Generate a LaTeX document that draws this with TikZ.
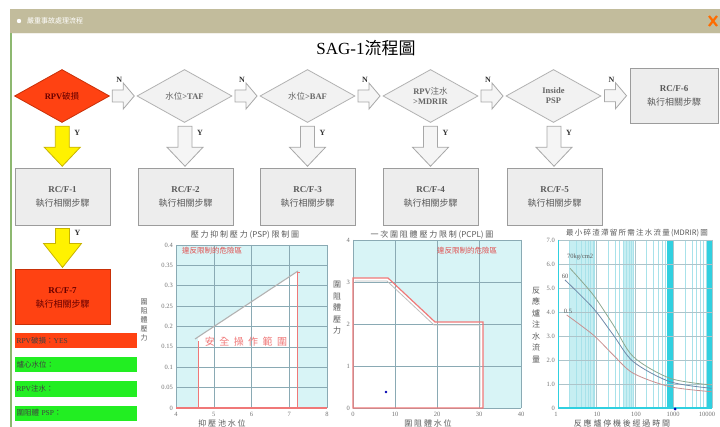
\documentclass[tikz,border=0pt]{standalone}
\usepackage{fontspec}
\setmainfont{Liberation Serif}
\newfontfamily\cjk{Noto Sans CJK TC}
\newcommand\zh[1]{{\cjk #1}}
\usetikzlibrary{shapes.geometric,calc}
\definecolor{barkhaki}{HTML}{C2BC9C}
\definecolor{redor}{HTML}{FF4212}
\definecolor{reddraw}{HTML}{C83008}
\definecolor{dgrey}{HTML}{F2F2F2}
\definecolor{bgrey}{HTML}{B2B2B2}
\definecolor{boxfill}{HTML}{EDEDED}
\definecolor{boxdraw}{HTML}{9C9C9C}
\definecolor{arrowc}{HTML}{A8A8A8}
\definecolor{arrowf}{HTML}{F5F5F5}
\definecolor{yel}{HTML}{FFF200}
\definecolor{yeldraw}{HTML}{C8B400}
\definecolor{grn}{HTML}{22EE22}
\definecolor{leftg}{HTML}{8DB870}
\definecolor{cyanbg}{HTML}{D8F4F6}
\definecolor{cyanl}{HTML}{C6EEF2}
\definecolor{cyanband}{HTML}{30D0E0}
\definecolor{minorc}{HTML}{A8E2EA}
\definecolor{gridc}{HTML}{8AAAB4}
\definecolor{redline}{HTML}{F07878}
\definecolor{redtext}{HTML}{E05050}
\definecolor{curvea}{HTML}{8EA890}
\definecolor{curveb}{HTML}{7088A8}
\definecolor{curvec}{HTML}{C89090}
\begin{document}
\begin{tikzpicture}[x=1pt,y=-1pt,
  dia/.style={diamond, minimum width=95pt, minimum height=53pt, inner sep=0pt, draw=bgrey, fill=dgrey, line width=0.8pt, align=center, text=black!60, font=\fontsize{8.5}{10}\selectfont},
  rcbox/.style={rectangle, draw=boxdraw, fill=boxfill, minimum width=95pt, minimum height=57pt, inner sep=0pt, align=center, text=black!65, font=\fontsize{9}{14}\selectfont, line width=0.8pt},
  harrow/.style={draw=arrowc, fill=arrowf, line width=0.8pt},
  yarrow/.style={draw=yeldraw, fill=yel, line width=0.8pt},
  lab/.style={font=\bfseries\fontsize{8}{8}\selectfont, text=black!80, inner sep=0pt},
  statbar/.style={rectangle, minimum width=122pt, minimum height=15pt, inner sep=1.5pt, text width=119pt, align=left, font=\fontsize{7.5}{8}\selectfont, text=black!75},
  tick/.style={font=\fontsize{6.5}{7}\selectfont, text=black!55, inner sep=1pt},
  ctitle/.style={font=\cjk\fontsize{8}{9}\selectfont, text=black!65, inner sep=0pt},
  vlab/.style={font=\cjk\fontsize{7.5}{10.5}\selectfont, text=black!65, align=center, inner sep=0pt},
  redtxt/.style={font=\cjk\fontsize{7.5}{8}\selectfont, text=redtext, inner sep=0pt},
  rarrow/.pic={\path[harrow] (-11,-6) -- (0,-6) -- (0,-13) -- (11,0) -- (0,13) -- (0,6) -- (-11,6) -- cycle;},
  darrow/.pic={\path[#1] (-7,-19) -- (7,-19) -- (7,2) -- (18,2) -- (0,21) -- (-18,2) -- (-7,2) -- cycle;},
  darrowb/.pic={\path[#1] (-7,-19) -- (7,-19) -- (7,-4) -- (19,-4) -- (0,20) -- (-19,-4) -- (-7,-4) -- cycle;}
]
\useasboundingbox (0,0) rectangle (720,427);
\fill[white] (0,0) rectangle (720,427);
% window frame
\fill[barkhaki] (10,9) rectangle (720,33);
\draw[white!80!barkhaki, line width=1pt] (10,33.5) -- (720,33.5);
\draw[leftg, line width=1.6pt] (11,33) -- (11,427);
\fill[white] (19,21) circle (2.2);
\node[anchor=west, text=white, font=\cjk\fontsize{7}{8}\selectfont, inner sep=0pt] (wtitle) at (27,21) {嚴重事故處理流程};
\draw[orange!85!red, line width=2.2pt] (709,16) -- (717,26) (717,16) -- (709,26);
% title
\node (title) at (366,48) {\fontsize{17}{20}\selectfont SAG-1\zh{流程圖}};
% decision row
\node[dia, fill=redor, draw=reddraw, text=black!60!red] (d1) at (62,96) {\textbf{RPV}\zh{破損}};
\node[dia] (d2) at (184.5,96) {\zh{水位}\textbf{>TAF}};
\node[dia] (d3) at (307.5,96) {\zh{水位}\textbf{>BAF}};
\node[dia] (d4) at (430.5,96) {\textbf{RPV}\zh{注水}\\\textbf{>MDRIR}};
\node[dia] (d5) at (553.5,96) {\textbf{Inside}\\\textbf{PSP}};
\node[rcbox, minimum width=88pt, minimum height=55pt] (b6) at (674,95.5) {\textbf{RC/F-6}\\\zh{執行相關步驟}};
% step boxes
\node[rcbox] (b1) at (62.5,196.5) {\textbf{RC/F-1}\\\zh{執行相關步驟}};
\node[rcbox] (b2) at (185.5,196.5) {\textbf{RC/F-2}\\\zh{執行相關步驟}};
\node[rcbox] (b3) at (307.5,196.5) {\textbf{RC/F-3}\\\zh{執行相關步驟}};
\node[rcbox] (b4) at (430.5,196.5) {\textbf{RC/F-4}\\\zh{執行相關步驟}};
\node[rcbox] (b5) at (554.5,196.5) {\textbf{RC/F-5}\\\zh{執行相關步驟}};
\node[rcbox, fill=redor, draw=reddraw, line width=1pt, minimum height=55pt, text=black!60!red] (b7) at (62.5,297.5) {\textbf{RC/F-7}\\\zh{執行相關步驟}};
% N arrows
\foreach \a/\b in {d1/d2,d2/d3,d3/d4,d4/d5,d5/b6}{
  \path ($(\a.east)!0.5!(\b.west)$) pic {rarrow};
  \node[lab] at ($(\a.east)!0.5!(\b.west)+(-4,-16)$) {N};
}
% Y arrows
\path ($(d1.south)!0.5!(b1.north)$) pic {darrow=yarrow};
\node[lab] at ($(d1.south)!0.5!(b1.north)+(15,-12)$) {Y};
\foreach \a/\b in {d2/b2,d3/b3,d4/b4,d5/b5}{
  \path ($(\a.south)!0.5!(\b.north)$) pic {darrow=harrow};
  \node[lab] at ($(\a.south)!0.5!(\b.north)+(15,-12)$) {Y};
}
\path ($(b1.south)!0.5!(b7.north)$) pic {darrowb=yarrow};
\node[lab] at ($(b1.south)!0.5!(b7.north)+(15,-15)$) {Y};
% status bars
\node[statbar, fill=redor] (s1) at (76,340.5) {RPV\zh{破損：}YES};
\node[statbar, fill=grn] (s2) at (76,365) {\zh{爐心水位：}};
\node[statbar, fill=grn] (s3) at (76,389) {RPV\zh{注水：}};
\node[statbar, fill=grn] (s4) at (76,413) {\zh{圍阻體} PSP\zh{：}};
%% chart 1 (PSP)
\fill[cyanbg] (176,245) rectangle (327,408);
\fill[white] (198,408) -- (198,337) -- (297,271) -- (297,408) -- cycle;
\foreach \i in {0,...,8} \draw[gridc, line width=0.5pt] (176,{245+20.375*\i}) -- (327,{245+20.375*\i});
\foreach \x in {176,213.75,251.5,289.25,327} \draw[gridc, line width=0.5pt] (\x,245) -- (\x,408);
\draw[gray!60, line width=1.1pt] (195,339) -- (298,271);
\draw[redline, line width=0.9pt] (198,341) -- (198,408) -- (297,408) -- (297,272) -- (300,272);
\draw[redline, line width=1.2pt] (176,408) -- (327,408);
\foreach \v/\i in {0.4/0,0.35/1,0.3/2,0.25/3,0.2/4,0.15/5,0.1/6,0.05/7,0/8} \node[tick,anchor=east] at (174,{245+20.375*\i}) {\v};
\foreach \v/\x in {4/176,5/213.75,6/251.5,7/289.25,8/327} \node[tick] at (\x,414) {\v};
\node[ctitle] (t1) at (245,235) {壓 力 抑 制 壓 力 (PSP) 限 制 圖};
\node[redtxt, anchor=west] (r1) at (182,251) {違反限制的危險區};
\node[font=\cjk\fontsize{10}{11}\selectfont, text=redline, inner sep=0pt] (r1b) at (246,342) {安 \ 全 \ 操 \ 作 \ 範 \ 圍};
\node[vlab, font=\cjk\fontsize{7}{9}\selectfont] (y1) at (144,320) {圍\\阻\\體\\壓\\力};
\node[ctitle] (x1) at (222,423) {抑 壓 池 水 位};
%% chart 2 (PCPL)
\fill[cyanbg] (353,240) rectangle (521,408);
\fill[white] (353,408) -- (353,278) -- (388,278) -- (435,322) -- (483,322) -- (483,408) -- cycle;
\foreach \y in {240,282,324,366,408} \draw[gridc, line width=0.5pt] (353,\y) -- (521,\y);
\foreach \x in {353,395,437,479,521} \draw[gridc, line width=0.5pt] (\x,240) -- (\x,408);
\draw[gray!50, line width=0.8pt] (355,281) -- (387,281) -- (434,325) -- (480,325) -- (480,406);
\draw[redline, line width=1.2pt] (353,408) -- (353,278) -- (388,278) -- (435,322) -- (483,322) -- (483,408) -- cycle;
\fill[blue!70!black] (386,392) circle (1.3);
\foreach \v/\y in {4/240,3/282,2/324,1/366,0/408} \node[tick,anchor=east] at (351,\y) {\v};
\foreach \v/\x in {0/353,10/395,20/437,30/479,40/521} \node[tick] at (\x,414) {\v};
\node[ctitle] (t2) at (432,235) {一 次 圍 阻 體 壓 力 限 制 (PCPL) 圖};
\node[redtxt, anchor=west] (r2) at (437,251) {違反限制的危險區};
\node[vlab, font=\cjk\fontsize{8}{11.5}\selectfont] (y2) at (337,308) {圍\\阻\\體\\壓\\力};
\node[ctitle] (x2) at (428,423) {圍 阻 體 水 位};
%% chart 3 (MDRIR)
\fill[white] (558,240) rectangle (712,408);
\fill[cyanl] (570,240) rectangle (594,408);
\fill[cyanl] (623,240) rectangle (634,408);
\foreach \d in {0,1,2,3}{
  \foreach \k in {2,...,9}{
    \pgfmathsetmacro\xx{558+38.5*(\d+ln(\k)/2.302585)}
    \draw[minorc, line width=0.5pt] (\xx,240) -- (\xx,408);
  }
}
\fill[cyanband] (667,240) rectangle (674,408);
\fill[cyanband] (707,240) rectangle (712,408);
\foreach \i in {0,...,7} \draw[gridc!70, line width=0.5pt] (558,{240+24*\i}) -- (712,{240+24*\i});
\foreach \x in {558,596.5,635,673.5,712} \draw[gridc!70, line width=0.5pt] (\x,240) -- (\x,408);
\draw[cyanband, line width=1.4pt] (558,408) -- (712,408);
\draw[cyanband, line width=0.8pt] (558,240) -- (558,408);
\draw[curvea, line width=0.8pt] plot[smooth] coordinates {(570,268.3) (593.3,295) (613.3,325) (633.3,356.7) (670,378.3) (711.7,385)};
\draw[curveb, line width=0.8pt] plot[smooth] coordinates {(565,280) (593.3,308.3) (613.3,335) (633.3,361.7) (670,381.7) (711.7,388.3)};
\draw[curvec, line width=0.8pt] plot[smooth] coordinates {(566.7,315) (593.3,335) (613.3,355) (633.3,373.3) (670,386.7) (711.7,391.7)};
\node[tick, anchor=west, text=black!65] (c70) at (566,257) {70kg/cm2};
\node[tick, text=black!65] (c60) at (565,276) {60};
\node[tick, text=black!65] (c05) at (568,311) {0.5};
\fill[blue!70!black] (675,409) circle (1.5);
\foreach \v/\i in {7.0/0,6.0/1,5.0/2,4.0/3,3.0/4,2.0/5,1.0/6,0/7} \node[tick,anchor=east] at (556,{240+24*\i}) {\v};
\foreach \v/\x in {1/556,10/597,100/636,1000/673,10000/707} \node[tick] at (\x,414) {\v};
\node[ctitle, font=\cjk\fontsize{7.5}{9}\selectfont] (t3) at (637,233) {最\,小\,碎\,渣\,滯\,留\,所\,需\,注\,水\,流\,量\,(MDRIR)\,圖};
\node[vlab, font=\cjk\fontsize{8}{11.5}\selectfont] (y3) at (536,325) {反\\應\\爐\\注\\水\\流\\量};
\node[ctitle] (x3) at (622,423) {反 應 爐 停 機 後 經 過 時 間};
\end{tikzpicture}
\end{document}
